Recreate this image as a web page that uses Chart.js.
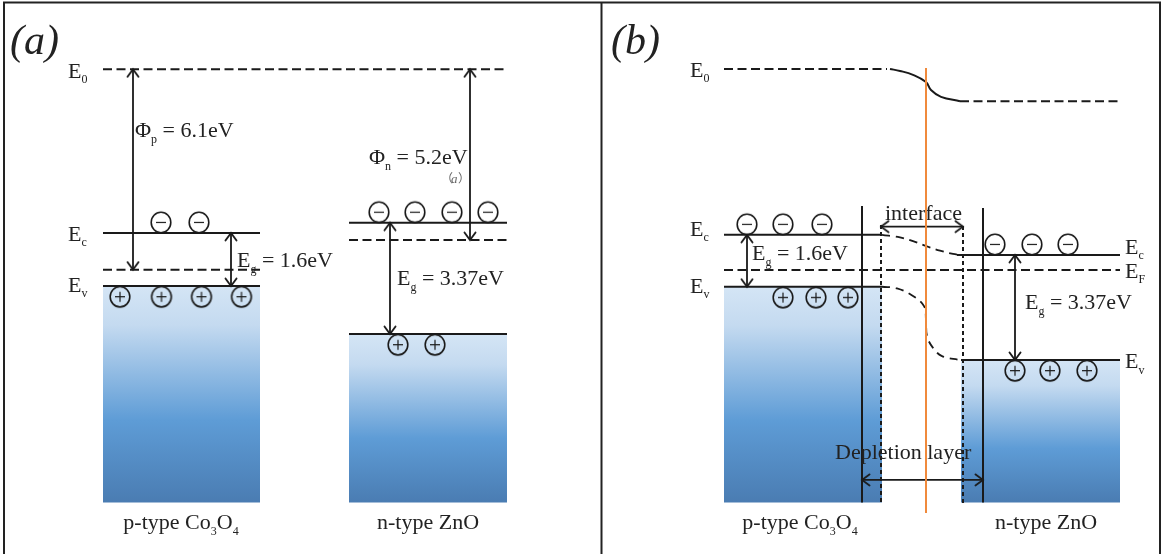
<!DOCTYPE html>
<html lang="en">
<head>
<meta charset="UTF-8">
<title>p-Co3O4 / n-ZnO band diagram</title>
<script src="https://cdn.jsdelivr.net/npm/chart.js"></script>
<style>
  html, body { margin: 0; padding: 0; background: #fff; }
  #wrap { width: 1162px; height: 554px; position: relative; }
</style>
</head>
<body>
<div id="wrap"><canvas id="bandChart" width="1162" height="554"></canvas></div>
<script>
// ---- data (eV) ----
const materials = ['p-type Co3O4', 'n-type ZnO'];
const workFunction = [6.1, 5.2];
const bandGap = [1.6, 3.37];

// (a) before contact, vacuum level = 0
const vacuumA = [0, 0];
const fermiA = [-6.1, -5.2];
const conductionA = [-4.98, -4.67];
const valenceA = [-6.6, -8.06];

// (b) after contact, common Fermi level = 0
const vacuumB = [6.12, 5.14];
const fermiB = [0, 0];
const conductionB = [1.07, 0.46];
const valenceB = [-0.51, -2.74];

// band bending across the interface in (b)
const bendVacuum = [6.12, 6.06, 5.94, 5.72, 5.48, 5.27, 5.14];
const bendConduction = [1.07, 0.99, 0.88, 0.73, 0.59, 0.49, 0.46];
const bendValence = [-0.51, -0.56, -0.79, -1.10, -1.52, -2.01, -2.37, -2.62, -2.74];

// ---- layout (pixels / x units) ----
const PX_PER_EV = 32.85;
const zeroPx = { ya: 69.3, yb: 270 };
const bottomA = -13.19, bottomB = -7.08;
const xA = { p: [103, 260], n: [349, 507], vac: [103, 505], phiP: 133, egP: 231, phiN: 470, egN: 390 };
const xB = { p: [724, 882], nC: [957, 1120], nV: [961, 1120], vacL: [724, 887], vacR: [960, 1122], fermi: [724, 1120],
  egP: 747, egN: 1015, solidL: 862, solidR: 983, dashL: 881, dashR: 963, iface: 926 };
const bendVacuumX = [890, 900, 913, 926, 931, 941, 960];
const bendConductionX = [882, 900, 913, 926, 940, 953, 960];
const bendValenceX = [882, 897, 913, 924, 926, 927, 933, 942, 960];
const carriersX = {
  aPe: [161, 199], aPh: [120, 161.5, 201.5, 241.5],
  aNe: [379, 415, 452, 488], aNh: [398, 435],
  bPe: [747, 783, 822], bPh: [783, 816, 848],
  bNe: [995, 1032, 1068], bNh: [1015, 1050, 1087]
};

const ink = '#1a1a1a';
const serif = '"Liberation Serif", "DejaVu Serif", serif';

// ---- point images ----
function makeHead() {
  const c = document.createElement('canvas'); c.width = 16; c.height = 18;
  const g = c.getContext('2d');
  g.strokeStyle = ink; g.lineWidth = 1.9; g.lineCap = 'round';
  g.beginPath(); g.moveTo(2.5, 16.5); g.lineTo(8, 9); g.lineTo(13.5, 16.5); g.stroke();
  return c;
}
function makeCarrier(sign) {
  const c = document.createElement('canvas'); c.width = 26; c.height = 50;
  const g = c.getContext('2d');
  const cy = 25 + (sign === '-' ? -10.5 : 10.7);
  g.strokeStyle = ink; g.lineWidth = 1.6;
  g.beginPath(); g.ellipse(13, cy, 9.8, 10.2, 0, 0, Math.PI * 2); g.stroke();
  g.lineWidth = 1.2;
  g.beginPath(); g.moveTo(8, cy); g.lineTo(18, cy);
  if (sign === '+') { g.moveTo(13, cy - 5); g.lineTo(13, cy + 5); }
  g.stroke();
  return c;
}
const head = makeHead();
const electron = makeCarrier('-');
const hole = makeCarrier('+');

// ---- dataset helpers ----
function seg(label, axis, pts, extra) {
  return Object.assign({ label, yAxisID: axis, data: pts, borderColor: ink, borderWidth: 2,
    pointRadius: 0, pointHoverRadius: 0, fill: false, tension: 0 }, extra || {});
}
function hLine(label, axis, xs, e, extra) {
  return seg(label, axis, [{ x: xs[0], y: e }, { x: xs[1], y: e }], extra);
}
function vLine(label, axis, x, e1, e2, extra) {
  return seg(label, axis, [{ x, y: e1 }, { x, y: e2 }], extra);
}
function arrow(label, axis, p1, p2, rot) {
  return seg(label, axis, [p1, p2], { borderWidth: 1.8, pointStyle: head, pointRadius: 4, pointRotation: rot });
}
function vArrow(label, axis, x, eTop, eBot) {
  return arrow(label, axis, { x, y: eTop }, { x, y: eBot }, [0, 180]);
}
function hArrow(label, axis, x1, x2, e) {
  return arrow(label, axis, { x: x1, y: e }, { x: x2, y: e }, [270, 90]);
}
function curve(label, axis, xs, es, extra) {
  return seg(label, axis, xs.map((x, i) => ({ x, y: es[i] })), Object.assign({ tension: 0.4 }, extra || {}));
}
function carriers(label, axis, xs, e, img) {
  return seg(label, axis, xs.map(x => ({ x, y: e })), { showLine: false, pointStyle: img, pointRadius: 5 });
}
function bandFill(ctx) {
  const chart = ctx.chart;
  if (!chart.chartArea) return 'rgba(0,0,0,0)';
  const ds = ctx.dataset, sc = chart.scales[ds.yAxisID];
  const top = sc.getPixelForValue(ds.data[0].y), bot = sc.getPixelForValue(ds.fill.value);
  const g = chart.ctx.createLinearGradient(0, top, 0, bot);
  g.addColorStop(0, '#d4e5f5');
  g.addColorStop(0.18, '#c4daf0');
  g.addColorStop(0.62, '#5e9cd6');
  g.addColorStop(1, '#4a7cb2');
  return g;
}
function band(label, axis, xs, e, bottom) {
  return hLine(label, axis, xs, e, { fill: { value: bottom }, backgroundColor: bandFill });
}
const dash = { borderDash: [9, 4.5] };
const dot = { borderDash: [4, 3] };
const bendDash = { borderDash: [8, 6], borderWidth: 1.8 };

// back to front
const datasets = [
  band('A p Ev', 'ya', xA.p, valenceA[0], bottomA),
  band('A n Ev', 'ya', xA.n, valenceA[1], bottomA),
  band('B p Ev', 'yb', xB.p, valenceB[0], bottomB),
  band('B n Ev', 'yb', xB.nV, valenceB[1], bottomB),

  hLine('A E0', 'ya', xA.vac, vacuumA[0], dash),
  hLine('A p Ec', 'ya', xA.p, conductionA[0]),
  hLine('A p Ef', 'ya', xA.p, fermiA[0], dash),
  hLine('A n Ec', 'ya', xA.n, conductionA[1]),
  hLine('A n Ef', 'ya', xA.n, fermiA[1], dash),

  hLine('B E0 p', 'yb', xB.vacL, vacuumB[0], dash),
  hLine('B E0 n', 'yb', xB.vacR, vacuumB[1], dash),
  curve('B E0 bend', 'yb', bendVacuumX, bendVacuum),
  hLine('B p Ec', 'yb', xB.p, conductionB[0]),
  hLine('B n Ec', 'yb', xB.nC, conductionB[1]),
  hLine('B Ef', 'yb', xB.fermi, fermiB[0], dash),
  curve('B Ec bend', 'yb', bendConductionX, bendConduction, bendDash),
  curve('B Ev bend', 'yb', bendValenceX, bendValence, bendDash),
  vLine('B solid L', 'yb', xB.solidL, 1.95, bottomB),
  vLine('B solid R', 'yb', xB.solidR, 1.89, bottomB),
  vLine('B dash L', 'yb', xB.dashL, 1.37, -7.15, dot),
  vLine('B dash R', 'yb', xB.dashR, 1.34, -7.15, dot),

  vArrow('A phi p', 'ya', xA.phiP, vacuumA[0], fermiA[0]),
  vArrow('A Eg p', 'ya', xA.egP, conductionA[0], valenceA[0]),
  vArrow('A phi n', 'ya', xA.phiN, vacuumA[1], fermiA[1]),
  vArrow('A Eg n', 'ya', xA.egN, conductionA[1], valenceA[1]),
  vArrow('B Eg p', 'yb', xB.egP, conductionB[0], valenceB[0]),
  vArrow('B Eg n', 'yb', xB.egN, conductionB[1], valenceB[1]),
  hArrow('B interface', 'yb', xB.dashL, xB.dashR, 1.32),
  hArrow('B depletion', 'yb', xB.solidL, xB.solidR, -6.39),

  carriers('A p e', 'ya', carriersX.aPe, conductionA[0], electron),
  carriers('A p h', 'ya', carriersX.aPh, valenceA[0], hole),
  carriers('A n e', 'ya', carriersX.aNe, conductionA[1], electron),
  carriers('A n h', 'ya', carriersX.aNh, valenceA[1], hole),
  carriers('B p e', 'yb', carriersX.bPe, conductionB[0], electron),
  carriers('B p h', 'yb', carriersX.bPh, valenceB[0], hole),
  carriers('B n e', 'yb', carriersX.bNe, conductionB[1], electron),
  carriers('B n h', 'yb', carriersX.bNh, valenceB[1], hole),

  vLine('interface line', 'yb', xB.iface, 6.15, -7.4, { borderColor: '#f08a3c', borderWidth: 2 })
];
datasets.forEach((d, i) => { d.order = datasets.length - i; });

// ---- text ----
function rich(c, x, y, parts, size, align) {
  const sub = Math.round(size * 0.55);
  let w = 0;
  parts.forEach(p => { c.font = (p[1] ? sub : size) + 'px ' + serif; w += c.measureText(p[0]).width; });
  let cx = align === 'center' ? x - w / 2 : x;
  const base = y + size * 0.33;
  parts.forEach(p => {
    c.font = (p[1] ? sub : size) + 'px ' + serif;
    c.fillText(p[0], cx, p[1] ? base + size * 0.24 : base);
    cx += c.measureText(p[0]).width;
  });
}

const textPlugin = {
  id: 'bandText',
  beforeDatasetDraw(chart, args) {
    if (chart.data.datasets[args.index].label !== 'interface line') return;
    const c = chart.ctx, ya = chart.scales.ya, yb = chart.scales.yb;
    const pa = e => ya.getPixelForValue(e), pb = e => yb.getPixelForValue(e);
    c.save();
    c.fillStyle = '#222'; c.textAlign = 'left'; c.textBaseline = 'alphabetic';
    const S = 22;
    // panel (a)
    rich(c, 68, pa(vacuumA[0]) + 1.5, [['E'], ['0', 1]], S);
    rich(c, 68, pa(conductionA[0]) + 0.5, [['E'], ['c', 1]], S);
    rich(c, 68, pa(valenceA[0]) - 1.5, [['E'], ['v', 1]], S);
    rich(c, 135, 130, [['Φ'], ['p', 1], [' = ' + workFunction[0] + 'eV']], S);
    rich(c, 369, 157, [['Φ'], ['n', 1], [' = ' + workFunction[1] + 'eV']], S);
    rich(c, 237, 260, [['E'], ['g', 1], [' = ' + bandGap[0] + 'eV']], S);
    rich(c, 397, 278, [['E'], ['g', 1], [' = ' + bandGap[1] + 'eV']], S);
    c.fillStyle = '#666';
    c.font = '12px ' + serif + ', "Noto Sans CJK SC"';
    c.fillText('（', 441, 183);
    c.font = 'italic 13px ' + serif;
    c.fillText('a', 451, 183);
    c.font = '12px ' + serif + ', "Noto Sans CJK SC"';
    c.fillText('）', 458, 183);
    c.fillStyle = '#222';
    rich(c, 181, 522, [['p-type Co'], ['3', 1], ['O'], ['4', 1]], S, 'center');
    rich(c, 428, 522, [['n-type ZnO']], S, 'center');
    c.font = 'italic 42px ' + serif;
    c.fillText('(a)', 10, 54);
    c.fillText('(b)', 611, 54);
    // panel (b)
    rich(c, 690, pb(vacuumB[0]) + 0.5, [['E'], ['0', 1]], S);
    rich(c, 690, pb(conductionB[0]) - 6, [['E'], ['c', 1]], S);
    rich(c, 690, pb(valenceB[0]) - 1, [['E'], ['v', 1]], S);
    rich(c, 1125, pb(conductionB[1]) - 8, [['E'], ['c', 1]], S);
    rich(c, 1125, pb(fermiB[0]) + 0.5, [['E'], ['F', 1]], S);
    rich(c, 1125, pb(valenceB[1]) + 1, [['E'], ['v', 1]], S);
    rich(c, 752, 253, [['E'], ['g', 1], [' = ' + bandGap[0] + 'eV']], S);
    rich(c, 1025, 302, [['E'], ['g', 1], [' = ' + bandGap[1] + 'eV']], S);
    rich(c, 885, 213, [['interface']], S);
    rich(c, 835, 452, [['Depletion layer']], S);
    rich(c, 800, 522, [['p-type Co'], ['3', 1], ['O'], ['4', 1]], S, 'center');
    rich(c, 1046, 522, [['n-type ZnO']], S, 'center');
    c.restore();
  },
  afterDraw(chart) {
    const c = chart.ctx;
    c.save();
    c.strokeStyle = '#222'; c.lineWidth = 2;
    c.beginPath();
    c.moveTo(3, 2.5); c.lineTo(1161, 2.5);
    c.moveTo(4, 2); c.lineTo(4, 554);
    c.moveTo(601.5, 2); c.lineTo(601.5, 554);
    c.moveTo(1160, 2); c.lineTo(1160, 554);
    c.stroke();
    c.restore();
  }
};

const H = 554;
new Chart(document.getElementById('bandChart'), {
  type: 'line',
  data: { datasets },
  options: {
    responsive: false,
    devicePixelRatio: 1,
    animation: false,
    events: [],
    layout: { padding: 0, autoPadding: false },
    plugins: { legend: { display: false }, tooltip: { enabled: false } },
    scales: {
      x: { type: 'linear', min: 0, max: 1162, display: false },
      ya: { type: 'linear', min: -(H - zeroPx.ya) / PX_PER_EV, max: zeroPx.ya / PX_PER_EV, display: false },
      yb: { type: 'linear', min: -(H - zeroPx.yb) / PX_PER_EV, max: zeroPx.yb / PX_PER_EV, display: false }
    }
  },
  plugins: [textPlugin]
});
</script>
</body>
</html>
